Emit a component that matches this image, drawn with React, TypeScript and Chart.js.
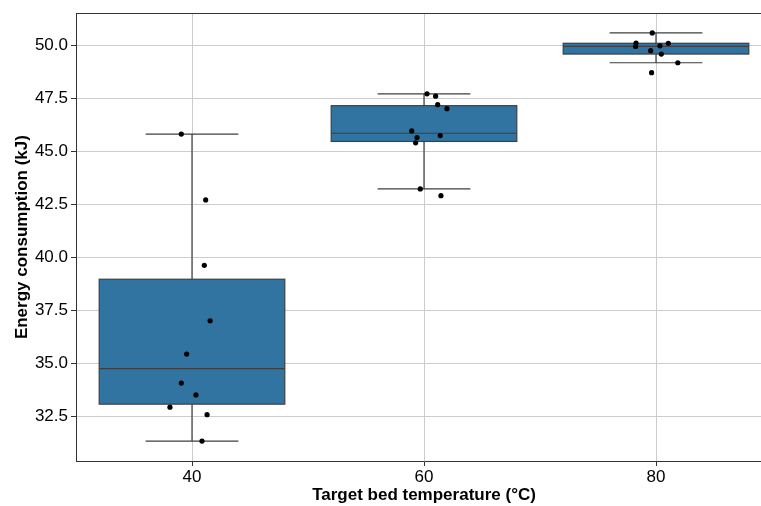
import { useEffect, useRef } from "react";
import { Chart, registerables } from "chart.js";

Chart.register(...registerables);

// Target bed temperatures (°C)
const temperatures = ["40", "60", "80"];

// Energy consumption per print (kJ) and the horizontal jitter of each strip point
const energy40 = [45.82, 42.71, 39.62, 37.0, 35.43, 34.06, 33.5, 32.92, 32.57, 31.32];
const jitter40 = [-0.046, 0.059, 0.053, 0.078, -0.023, -0.046, 0.017, -0.095, 0.065, 0.043];

const energy60 = [47.72, 47.61, 47.21, 47.02, 45.97, 45.75, 45.66, 45.41, 43.23, 42.91];
const jitter60 = [0.013, 0.05, 0.059, 0.099, -0.053, 0.07, -0.03, -0.036, -0.016, 0.073];

const energy80 = [50.6, 50.12, 49.96, 49.99, 50.11, 49.76, 49.6, 49.19, 48.72];
const jitter80 = [-0.016, -0.086, -0.088, 0.017, 0.053, -0.023, 0.023, 0.094, -0.019];

const yTicks = [32.5, 35, 37.5, 40, 42.5, 45, 47.5, 50];
const yMin = 30.38;
const yMax = 51.53;

const groups = [energy40, energy60, energy80];
const jitters = [jitter40, jitter60, jitter80];

const FONT = "'Liberation Sans', Arial, Helvetica, sans-serif";
const BOX_FILL = "#3274a1";
const BOX_EDGE = "#3f3f3f";

function quantile(sorted: number[], p: number) {
  const pos = (sorted.length - 1) * p;
  const lo = Math.floor(pos);
  const hi = Math.ceil(pos);
  return sorted[lo] + (sorted[hi] - sorted[lo]) * (pos - lo);
}

function boxStats(values: number[]) {
  const s = [...values].sort((a, b) => a - b);
  const q1 = quantile(s, 0.25);
  const med = quantile(s, 0.5);
  const q3 = quantile(s, 0.75);
  const iqr = q3 - q1;
  const lowFence = q1 - 1.5 * iqr;
  const highFence = q3 + 1.5 * iqr;
  const lo = Math.min(...s.filter((v) => v >= lowFence));
  const hi = Math.max(...s.filter((v) => v <= highFence));
  return { q1, med, q3, lo, hi };
}

// Box, whiskers and median for each temperature group, drawn under the strip points
const boxPlugin = {
  id: "boxes",
  beforeDatasetsDraw(chart: any) {
    const { ctx, scales } = chart;
    const x = scales.x;
    const y = scales.y;
    groups.forEach((vals, i) => {
      const st = boxStats(vals);
      const cx = x.getPixelForValue(i);
      const half = x.getPixelForValue(i + 0.4) - cx;
      const capHalf = half / 2;
      const yq1 = y.getPixelForValue(st.q1);
      const yq3 = y.getPixelForValue(st.q3);
      const ymed = y.getPixelForValue(st.med);
      const ylo = y.getPixelForValue(st.lo);
      const yhi = y.getPixelForValue(st.hi);
      ctx.save();
      ctx.strokeStyle = BOX_EDGE;
      ctx.lineWidth = 1.2;
      ctx.beginPath();
      ctx.moveTo(cx, yq3);
      ctx.lineTo(cx, yhi);
      ctx.moveTo(cx - capHalf, yhi);
      ctx.lineTo(cx + capHalf, yhi);
      ctx.moveTo(cx, yq1);
      ctx.lineTo(cx, ylo);
      ctx.moveTo(cx - capHalf, ylo);
      ctx.lineTo(cx + capHalf, ylo);
      ctx.stroke();
      ctx.fillStyle = BOX_FILL;
      ctx.fillRect(cx - half, yq3, 2 * half, yq1 - yq3);
      ctx.strokeRect(cx - half, yq3, 2 * half, yq1 - yq3);
      ctx.beginPath();
      ctx.moveTo(cx - half, ymed);
      ctx.lineTo(cx + half, ymed);
      ctx.stroke();
      ctx.restore();
    });
  },
  afterDraw(chart: any) {
    // top spine of the axes frame
    const { ctx, chartArea } = chart;
    ctx.save();
    ctx.strokeStyle = "#333333";
    ctx.lineWidth = 1;
    ctx.beginPath();
    ctx.moveTo(chartArea.left, Math.round(chartArea.top) + 0.5);
    ctx.lineTo(chartArea.right, Math.round(chartArea.top) + 0.5);
    ctx.stroke();
    ctx.restore();
  },
};

export default function App() {
  const canvasRef = useRef<HTMLCanvasElement | null>(null);

  useEffect(() => {
    const canvas = canvasRef.current;
    if (!canvas) return;

    const points = groups.flatMap((vals, i) =>
      vals.map((v, j) => ({ x: i + jitters[i][j], y: v }))
    );

    const chart = new Chart(canvas, {
      type: "scatter",
      data: {
        datasets: [
          {
            data: points,
            pointRadius: 2.6,
            pointHoverRadius: 2.6,
            backgroundColor: "#000000",
            borderWidth: 0,
          },
        ],
      },
      options: {
        animation: false,
        responsive: false,
        devicePixelRatio: 1,
        layout: { padding: { top: 12, right: 28, left: 0, bottom: 0 } },
        plugins: {
          legend: { display: false },
          tooltip: { enabled: false },
        },
        scales: {
          x: {
            type: "linear",
            min: -0.5,
            max: 2.5,
            afterBuildTicks: (s: any) => {
              s.ticks = temperatures.map((_, i) => ({ value: i }));
            },
            afterFit: (s: any) => {
              s.height = 45;
            },
            ticks: {
              callback: (v: any) => temperatures[Math.round(Number(v))] ?? "",
              font: { family: FONT, size: 17 },
              color: "#000000",
              padding: 1,
              maxRotation: 0,
              autoSkip: false,
            },
            grid: {
              color: "#cccccc",
              tickColor: "#333333",
              tickLength: 5,
              lineWidth: 1,
            },
            border: { color: "#333333", width: 1 },
            title: {
              display: true,
              text: "Target bed temperature (°C)",
              font: { family: FONT, size: 17, weight: "bold" },
              color: "#000000",
              padding: { top: 0, bottom: 0 },
            },
          },
          y: {
            type: "linear",
            min: yMin,
            max: yMax,
            afterBuildTicks: (s: any) => {
              s.ticks = yTicks.map((v) => ({ value: v }));
            },
            afterFit: (s: any) => {
              s.width = 76;
            },
            ticks: {
              callback: (v: any) => Number(v).toFixed(1),
              font: { family: FONT, size: 17 },
              color: "#000000",
              padding: 3,
            },
            grid: {
              color: "#cccccc",
              tickColor: "#333333",
              tickLength: 5,
              lineWidth: 1,
            },
            border: { color: "#333333", width: 1 },
            title: {
              display: true,
              text: "Energy consumption (kJ)",
              font: { family: FONT, size: 17, weight: "bold" },
              color: "#000000",
              padding: { top: 12, bottom: 0 },
            },
          },
        },
      },
      plugins: [boxPlugin],
    });

    return () => chart.destroy();
  }, []);

  return (
    <div
      style={{
        position: "absolute",
        left: 0,
        top: 0,
        width: 761,
        height: 506,
        overflow: "hidden",
        background: "#ffffff",
      }}
    >
      <canvas
        ref={canvasRef}
        width={800}
        height={506}
        style={{ display: "block", width: 800, height: 506 }}
      />
    </div>
  );
}
